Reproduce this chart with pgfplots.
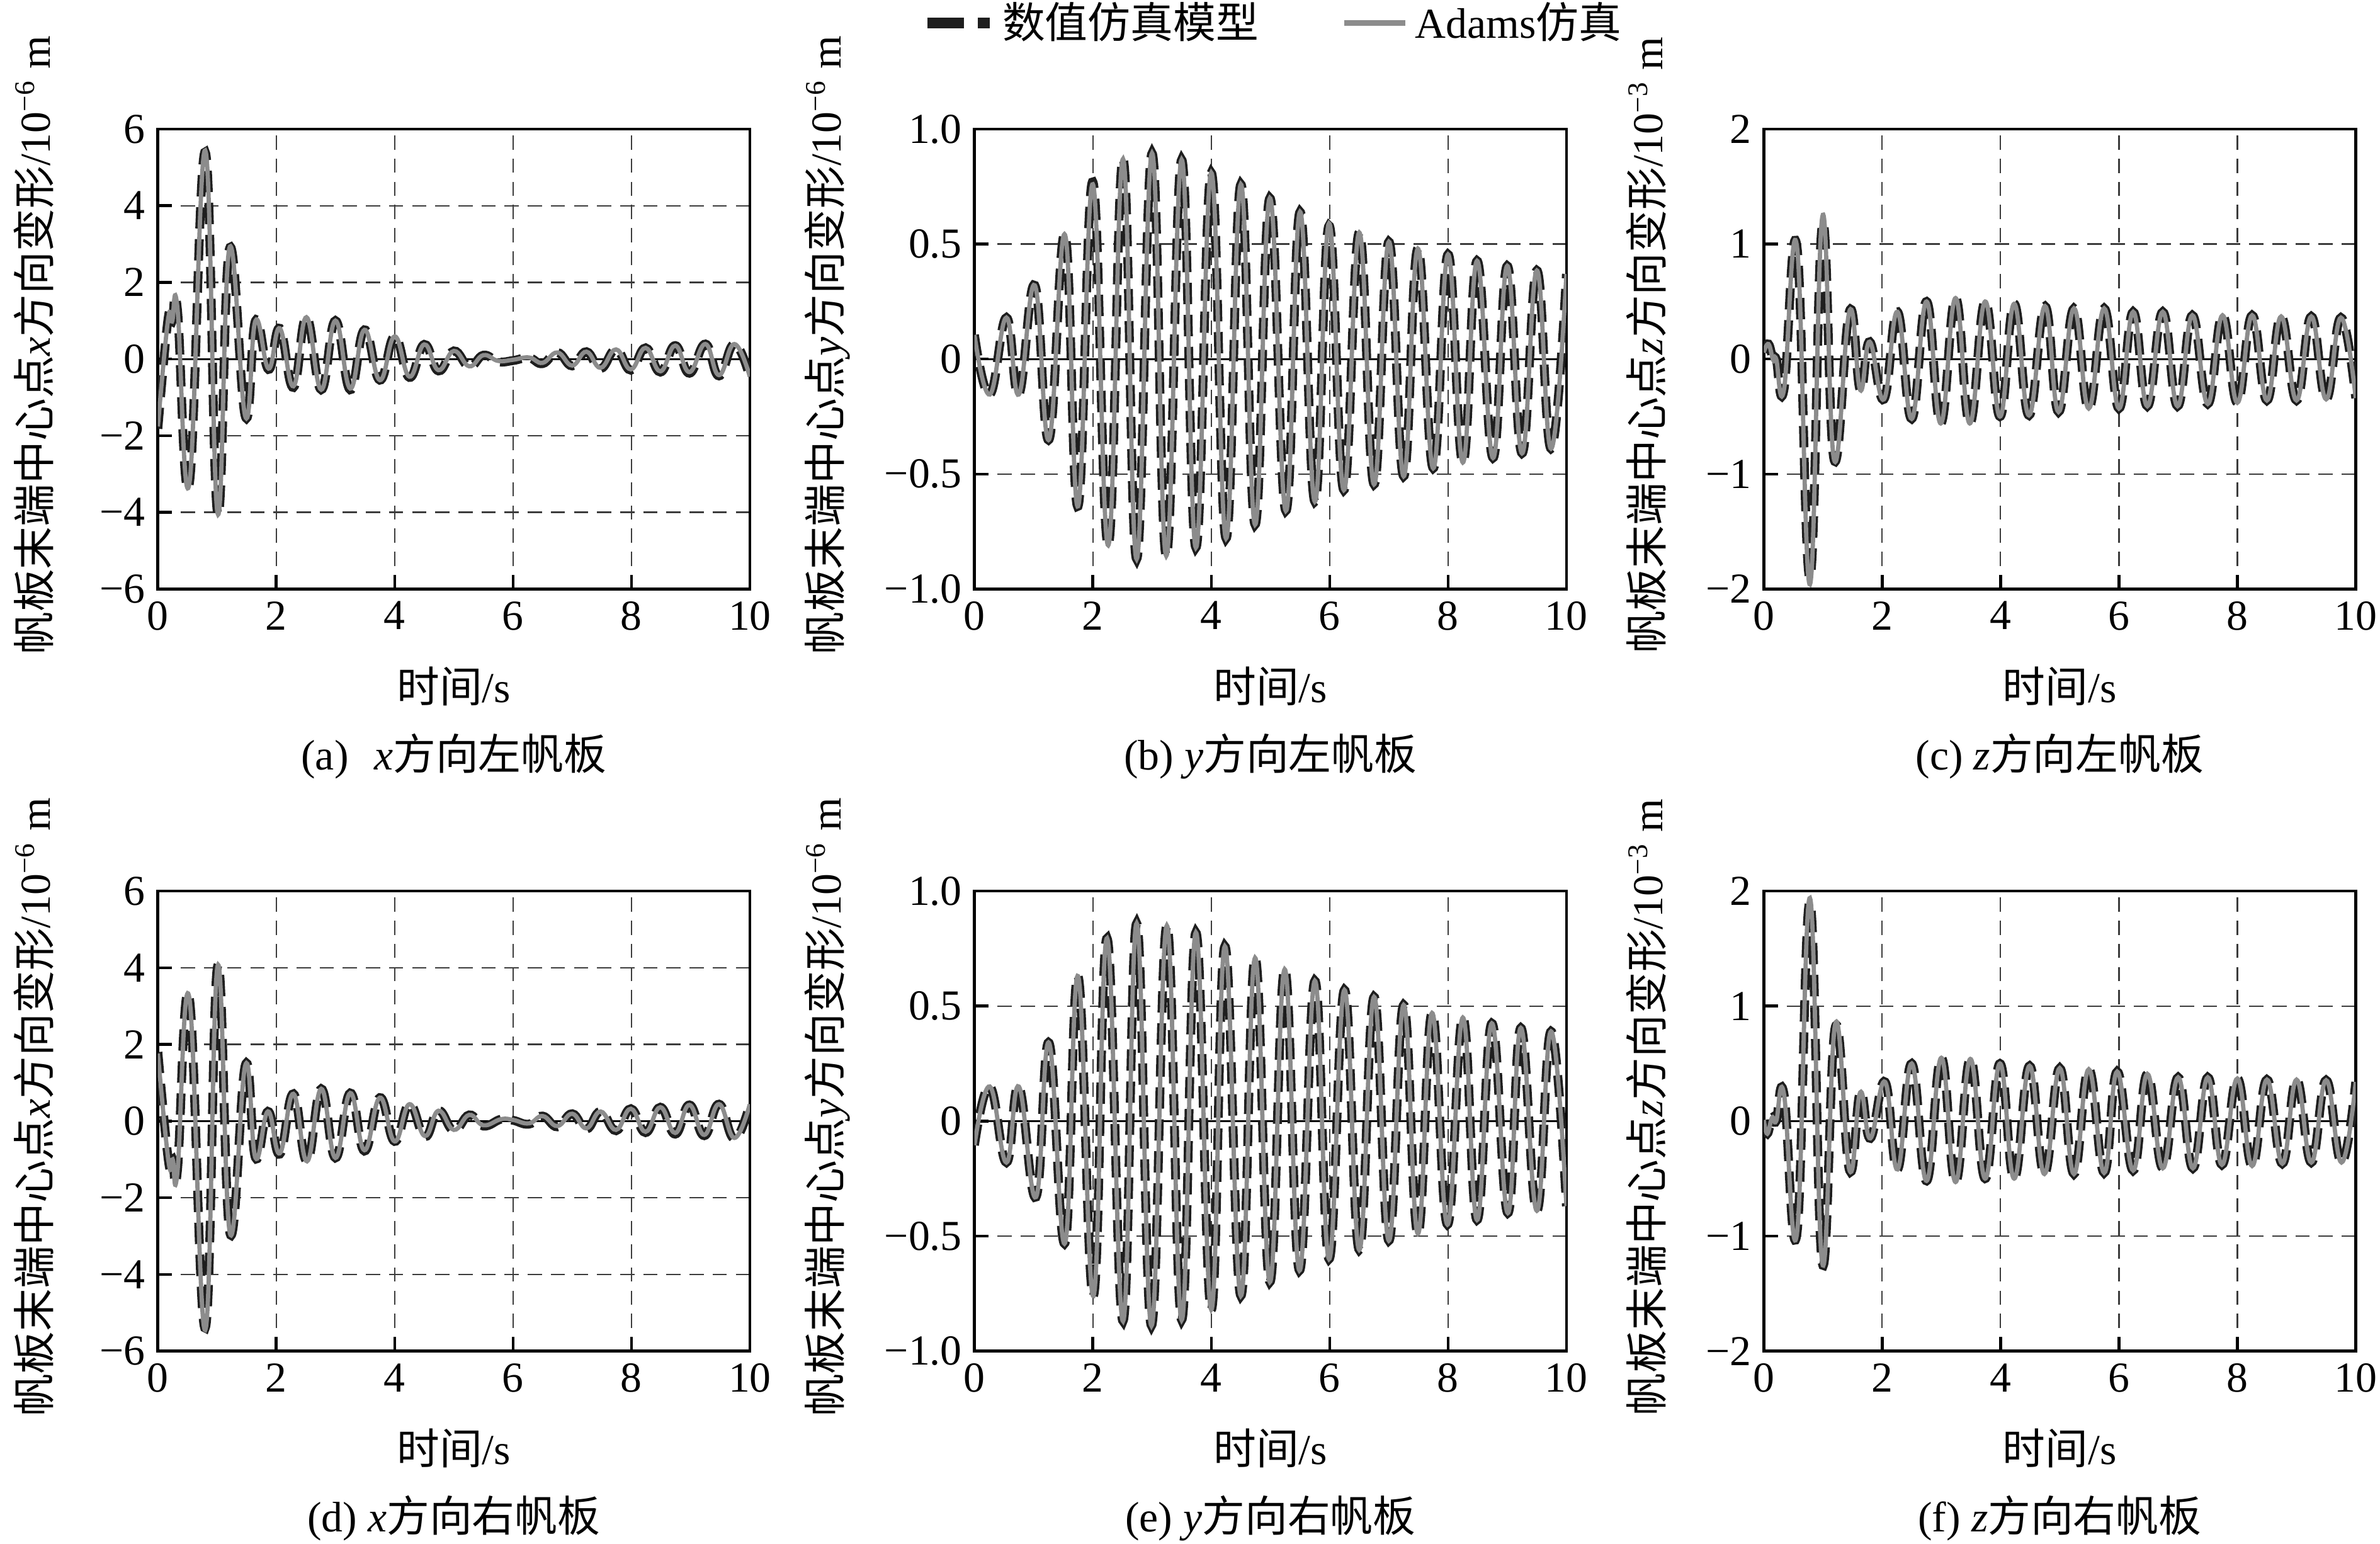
\documentclass[border=0pt]{standalone}
\usepackage{pgfplots}
\pgfplotsset{compat=1.18}
\usepackage{pgfplotstable}
\usepackage{fontspec}
\setmainfont{Liberation Serif}
\newfontfamily\cjk{Noto Sans CJK SC}
\newcommand{\zh}[1]{{\cjk #1}}
\definecolor{adams}{RGB}{140,140,140}
\definecolor{numc}{RGB}{30,30,30}
\definecolor{gridc}{RGB}{60,60,60}

% t  a(Adams)  n(numerical model)
\pgfplotstableread{
t a n
0 -1.76 -1.82
0.17 1.00 1.02
0.24 0.98 0.98
0.33 1.34 1.30
0.53 -3.27 -3.27
0.80 5.44 5.40
1.01 -4.03 -4.03
1.21 2.90 2.88
1.48 -1.51 -1.51
1.65 1.00 1.00
1.87 -0.25 -0.27
2.06 0.80 0.80
2.29 -0.71 -0.74
2.51 1.09 1.09
2.76 -0.80 -0.80
3.00 1.00 1.00
3.25 -0.77 -0.80
3.49 0.76 0.76
3.75 -0.55 -0.55
4.00 0.59 0.59
4.25 -0.46 -0.48
4.50 0.38 0.38
4.74 -0.29 -0.31
5.00 0.21 0.21
5.26 -0.19 -0.20
5.50 0.10 0.10
5.75 -0.05 -0.07
6.00 -0.02 -0.04
6.27 0.04 0.03
6.50 -0.10 -0.12
6.75 0.17 0.17
7.00 -0.17 -0.18
7.24 0.19 0.19
7.48 -0.23 -0.25
7.74 0.25 0.25
7.99 -0.27 -0.29
8.24 0.29 0.29
8.49 -0.32 -0.34
8.74 0.35 0.35
8.98 -0.34 -0.37
9.25 0.39 0.39
9.48 -0.42 -0.44
9.74 0.39 0.39
10.0 -0.46 -0.47
}\tA

\pgfplotstableread{
t a n
0 0.105 0.105
0.26 -0.154 -0.154
0.54 0.18 0.18
0.75 -0.154 -0.154
1.02 0.32 0.32
1.26 -0.35 -0.35
1.53 0.54 0.54
1.75 -0.64 -0.64
2.00 0.76 0.77
2.26 -0.81 -0.81
2.51 0.87 0.87
2.74 -0.87 -0.87
3.00 0.895 0.895
3.24 -0.856 -0.856
3.50 0.867 0.867
3.74 -0.82 -0.82
4.00 0.81 0.81
4.25 -0.78 -0.78
4.50 0.76 0.76
4.74 -0.72 -0.72
4.99 0.70 0.70
5.26 -0.66 -0.66
5.50 0.64 0.64
5.75 -0.62 -0.62
5.99 0.59 0.58
6.24 -0.57 -0.57
6.50 0.55 0.55
6.75 -0.545 -0.545
7.00 0.51 0.51
7.25 -0.51 -0.51
7.49 0.48 0.48
7.75 -0.475 -0.475
8.00 0.455 0.455
8.25 -0.45 -0.45
8.49 0.427 0.427
8.76 -0.43 -0.43
9.00 0.405 0.405
9.25 -0.41 -0.41
9.50 0.385 0.385
9.74 -0.39 -0.39
10.0 0.37 0.37
}\tB

\pgfplotstableread{
t a n
0 0.056 0.056
0.08 0.13 0.13
0.16 -0.01 -0.01
0.21 0.00 0.00
0.34 -0.27 -0.27
0.56 0.98 0.98
0.78 -1.96 -1.90
0.99 1.24 1.17
1.19 -0.88 -0.88
1.45 0.42 0.42
1.63 -0.27 -0.27
1.79 0.15 0.15
2.03 -0.35 -0.35
2.26 0.41 0.41
2.50 -0.52 -0.52
2.75 0.50 0.50
2.99 -0.56 -0.56
3.24 0.53 0.53
3.48 -0.56 -0.56
3.74 0.50 0.50
3.99 -0.50 -0.50
4.23 0.48 0.48
4.48 -0.49 -0.49
4.75 0.46 0.46
4.98 -0.46 -0.46
5.24 0.44 0.44
5.49 -0.43 -0.43
5.75 0.44 0.44
6.00 -0.43 -0.43
6.24 0.41 0.41
6.48 -0.41 -0.41
6.74 0.41 0.41
6.99 -0.41 -0.41
7.24 0.38 0.38
7.50 -0.39 -0.39
7.75 0.38 0.38
8.00 -0.38 -0.38
8.25 0.38 0.38
8.50 -0.36 -0.36
8.74 0.37 0.37
9.00 -0.36 -0.36
9.25 0.37 0.37
9.50 -0.35 -0.35
9.75 0.36 0.36
10.0 -0.34 -0.34
}\tC

\pgfplotstableread{
t a n
0 1.76 1.80
0.18 -1.05 -1.05
0.25 -1.00 -1.00
0.33 -1.34 -1.30
0.53 3.23 3.23
0.80 -5.45 -5.40
1.01 4.05 4.05
1.22 -2.94 -2.94
1.48 1.47 1.47
1.65 -0.96 -0.96
1.86 0.25 0.25
2.06 -0.84 -0.86
2.29 0.71 0.71
2.52 -1.05 -1.05
2.76 0.84 0.84
3.00 -0.96 -0.96
3.25 0.73 0.73
3.49 -0.76 -0.78
3.75 0.61 0.61
4.00 -0.53 -0.53
4.25 0.44 0.44
4.51 -0.39 -0.41
4.74 0.27 0.27
5.00 -0.23 -0.25
5.26 0.16 0.16
5.50 -0.11 -0.13
5.80 0.05 0.05
6.00 0.03 0.02
6.27 -0.06 -0.08
6.50 0.13 0.13
6.75 -0.13 -0.15
7.00 0.19 0.19
7.24 -0.19 -0.21
7.48 0.25 0.25
7.74 -0.23 -0.25
7.99 0.32 0.32
8.24 -0.28 -0.30
8.49 0.36 0.36
8.74 -0.31 -0.34
8.98 0.42 0.42
9.23 -0.36 -0.38
9.48 0.44 0.44
9.74 -0.44 -0.46
10.0 0.44 0.44
}\tD

\pgfplotstableread{
t a n
0 -0.105 -0.105
0.26 0.15 0.15
0.54 -0.18 -0.18
0.75 0.15 0.15
1.04 -0.33 -0.33
1.26 0.34 0.34
1.53 -0.53 -0.53
1.75 0.63 0.63
2.01 -0.76 -0.76
2.24 0.795 0.795
2.51 -0.87 -0.87
2.74 0.86 0.86
2.99 -0.89 -0.89
3.25 0.85 0.85
3.50 -0.865 -0.865
3.74 0.82 0.82
4.00 -0.82 -0.82
4.23 0.76 0.76
4.50 -0.76 -0.76
4.74 0.71 0.71
4.99 -0.70 -0.70
5.24 0.66 0.66
5.49 -0.65 -0.65
5.75 0.61 0.61
5.99 -0.60 -0.60
6.25 0.57 0.57
6.50 -0.56 -0.56
6.75 0.54 0.54
7.00 -0.52 -0.52
7.25 0.505 0.505
7.49 -0.49 -0.49
7.73 0.47 0.47
7.99 -0.45 -0.45
8.25 0.45 0.45
8.49 -0.43 -0.43
8.74 0.425 0.425
9.01 -0.40 -0.40
9.23 0.405 0.405
9.50 -0.39 -0.39
9.74 0.39 0.39
10.0 -0.37 -0.37
}\tE

\pgfplotstableread{
t a n
0 0.01 0.01
0.06 -0.11 -0.11
0.14 0.03 0.03
0.21 0.00 0.00
0.34 0.24 0.24
0.56 -0.98 -0.98
0.78 1.94 1.90
0.99 -1.24 -1.24
1.21 0.85 0.82
1.45 -0.43 -0.43
1.63 0.25 0.25
1.80 -0.15 -0.15
2.05 0.34 0.34
2.26 -0.42 -0.42
2.50 0.50 0.50
2.75 -0.52 -0.52
3.00 0.55 0.55
3.24 -0.53 -0.53
3.49 0.54 0.54
3.74 -0.50 -0.50
3.99 0.50 0.50
4.23 -0.50 -0.50
4.49 0.48 0.48
4.74 -0.46 -0.46
5.00 0.46 0.46
5.24 -0.46 -0.46
5.49 0.45 0.45
5.75 -0.45 -0.45
5.97 0.43 0.43
6.24 -0.43 -0.43
6.48 0.41 0.41
6.74 -0.41 -0.41
7.00 0.38 0.38
7.25 -0.41 -0.41
7.50 0.38 0.38
7.74 -0.38 -0.38
8.00 0.37 0.37
8.25 -0.39 -0.39
8.50 0.36 0.36
8.76 -0.37 -0.37
9.00 0.36 0.36
9.25 -0.36 -0.36
9.50 0.355 0.355
9.76 -0.36 -0.36
10.0 0.34 0.34
}\tF

\pgfplotsset{
  panel/.style={
    scale only axis, width=5.85cm, height=4.545cm,
    anchor=north west,
    xmin=0, xmax=10, xtick={0,2,4,6,8,10},
    axis line style={line width=0.8pt},
    tick align=inside, xtick pos=left, ytick pos=left,
    major tick length=4pt,
    every tick/.style={black, line width=0.8pt},
    grid=major,
    major grid style={gridc, line width=0.4pt, dash pattern=on 4pt off 2.5pt},
    extra y ticks={0}, extra y tick labels={},
    extra y tick style={grid=major, major grid style={black, solid, line width=0.5pt}},
    tick label style={font=\fontsize{12}{14}\selectfont},
    label style={font=\fontsize{12}{14}\selectfont},
    /pgf/number format/assume math mode=true,
    xlabel={\zh{时间}/s},
    xlabel style={at={(axis description cs:0.5,-0.211)}, anchor=center},
    title style={at={(axis description cs:0.5,-0.41)}, anchor=center, font=\fontsize{12}{14}\selectfont},
  },
  ysix/.style={ymin=-6, ymax=6, ytick={-6,-4,-2,0,2,4,6},
    yticklabels={−6,−4,−2,0,2,4,6}},
  yone/.style={ymin=-1, ymax=1, ytick={-1,-0.5,0,0.5,1},
    yticklabels={−1.0,−0.5,0,0.5,1.0}},
  ytwo/.style={ymin=-2, ymax=2, ytick={-2,-1,0,1,2},
    yticklabels={−2,−1,0,1,2}},
  numl/.style={numc, line width=2.5pt, dash pattern=on 6pt off 3pt, smooth, tension=0.75},
  adl/.style={adams, line width=1.2pt, smooth, tension=0.75},
}

\begin{document}
\begin{tikzpicture}
\useasboundingbox (0,0) rectangle (23.52cm,-15.255cm);

% (a)
\begin{axis}[panel, ysix, at={(1.56cm,-1.275cm)},
  ylabel={\zh{帆板末端中心点}\textit{x}\zh{方向变形}/10\textsuperscript{−6} m},
  ylabel style={at={(axis description cs:-0.21,0.53)}, anchor=center},
  title={(a)\hspace{0.6em}\textit{x}\zh{方向左帆板}}]
\addplot[numl] table[x=t,y=n] {\tA};
\addplot[adl] table[x=t,y=a] {\tA};
\end{axis}

% (b)
\begin{axis}[panel, yone, at={(9.63cm,-1.275cm)},
  ylabel={\zh{帆板末端中心点}\textit{y}\zh{方向变形}/10\textsuperscript{−6} m},
  ylabel style={at={(axis description cs:-0.249,0.53)}, anchor=center},
  title={(b) \textit{y}\zh{方向左帆板}},
  legend style={at={(axis description cs:0.508,1.231)}, anchor=center,
    draw=none, fill=none, font=\fontsize{12}{14}\selectfont,
    /tikz/every even column/.append style={column sep=0.75cm}},
  legend columns=2]
\addplot[numl, legend image code/.code={
   \draw[numc, solid, line width=3pt] (0cm,0cm) -- (0.36cm,0cm);
   \draw[numc, solid, line width=3pt] (0.5cm,0cm) -- (0.62cm,0cm);}] table[x=t,y=n] {\tB};
\addlegendentry{\zh{数值仿真模型}}
\addplot[adl, legend image code/.code={
   \draw[adams, solid, line width=1.6pt] (0cm,0cm) -- (0.6cm,0cm);}] table[x=t,y=a] {\tB};
\addlegendentry{Adams\zh{仿真}}
\end{axis}

% (c)
\begin{axis}[panel, ytwo, at={(17.43cm,-1.275cm)},
  ylabel={\zh{帆板末端中心点}\textit{z}\zh{方向变形}/10\textsuperscript{−3} m},
  ylabel style={at={(axis description cs:-0.198,0.53)}, anchor=center},
  title={(c) \textit{z}\zh{方向左帆板}}]
\addplot[numl] table[x=t,y=n] {\tC};
\addplot[adl] table[x=t,y=a] {\tC};
\end{axis}

% (d)
\begin{axis}[panel, ysix, at={(1.56cm,-8.805cm)},
  ylabel={\zh{帆板末端中心点}\textit{x}\zh{方向变形}/10\textsuperscript{−6} m},
  ylabel style={at={(axis description cs:-0.21,0.53)}, anchor=center},
  title={(d) \textit{x}\zh{方向右帆板}}]
\addplot[numl] table[x=t,y=n] {\tD};
\addplot[adl] table[x=t,y=a] {\tD};
\end{axis}

% (e)
\begin{axis}[panel, yone, at={(9.63cm,-8.805cm)},
  ylabel={\zh{帆板末端中心点}\textit{y}\zh{方向变形}/10\textsuperscript{−6} m},
  ylabel style={at={(axis description cs:-0.249,0.53)}, anchor=center},
  title={(e) \textit{y}\zh{方向右帆板}}]
\addplot[numl] table[x=t,y=n] {\tE};
\addplot[adl] table[x=t,y=a] {\tE};
\end{axis}

% (f)
\begin{axis}[panel, ytwo, at={(17.43cm,-8.805cm)},
  ylabel={\zh{帆板末端中心点}\textit{z}\zh{方向变形}/10\textsuperscript{−3} m},
  ylabel style={at={(axis description cs:-0.198,0.53)}, anchor=center},
  title={(f) \textit{z}\zh{方向右帆板}}]
\addplot[numl] table[x=t,y=n] {\tF};
\addplot[adl] table[x=t,y=a] {\tF};
\end{axis}
\end{tikzpicture}
\end{document}
